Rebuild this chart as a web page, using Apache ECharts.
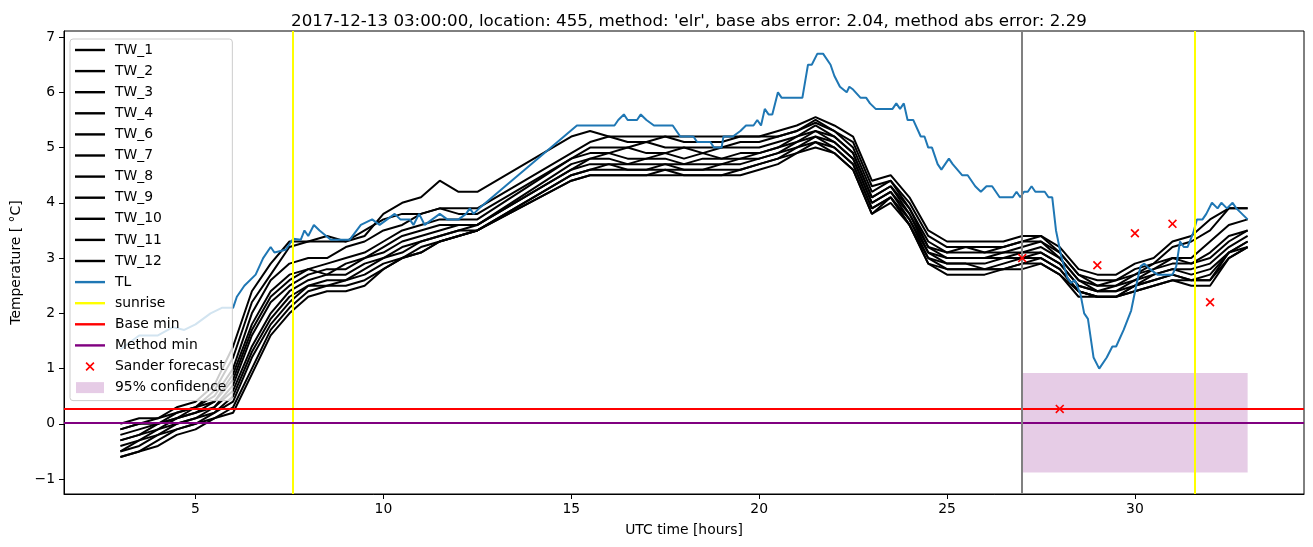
<!DOCTYPE html>
<html><head><meta charset="utf-8">
<script src="https://cdn.jsdelivr.net/npm/echarts@6/dist/echarts.min.js"></script>
<style>html,body{margin:0;padding:0;background:#fff}#c{width:1313px;height:547px}</style>
</head><body><div id="c"></div>
<script>
// ---------------- data ----------------
const times = [3,3.5,4,4.5,5,5.5,6,6.5,7,7.5,8,8.5,9,9.5,10,10.5,11,11.5,12,12.5,
  15,15.5,16,16.5,17,17.5,18,18.5,19,19.5,20,20.5,21,21.5,22,22.5,23,23.5,24,24.5,
  25,25.5,26,26.5,27,27.5,28,28.5,29,29.5,30,30.5,31,31.5,32,32.5,33];

const TW_1 = [0.0,0.1,0.1,0.3,0.4,0.7,1.4,2.4,2.9,3.3,3.3,3.4,3.3,3.4,3.8,4.0,4.1,4.4,4.2,4.2,
  5.2,5.3,5.2,5.2,5.2,5.2,5.2,5.2,5.2,5.2,5.2,5.3,5.4,5.55,5.4,5.2,4.4,4.5,4.1,3.5,
  3.3,3.3,3.3,3.3,3.4,3.4,3.2,2.8,2.7,2.7,2.9,3.0,3.3,3.4,3.7,3.9,3.9];
const TW_2 = [-0.1,0.0,0.1,0.2,0.3,0.6,1.2,2.2,2.7,3.2,3.3,3.3,3.3,3.5,3.7,3.8,3.8,3.9,3.9,3.9,
  4.9,5.1,5.2,5.1,5.1,5.2,5.1,5.1,5.1,5.2,5.2,5.2,5.3,5.5,5.3,5.1,4.3,4.4,4.0,3.4,
  3.2,3.2,3.2,3.2,3.3,3.4,3.1,2.7,2.6,2.6,2.8,2.9,3.2,3.3,3.5,3.9,3.9];
const TW_3 = [-0.1,0.0,0.0,0.2,0.3,0.5,1.0,2.0,2.6,2.9,3.0,3.0,3.2,3.3,3.5,3.6,3.8,3.9,3.8,3.8,
  4.8,5.0,5.0,5.0,5.1,5.0,5.0,5.0,5.0,5.1,5.1,5.2,5.3,5.45,5.3,5.0,4.2,4.4,3.9,3.3,
  3.1,3.2,3.1,3.2,3.3,3.3,3.1,2.7,2.5,2.6,2.7,2.9,3.0,3.0,3.3,3.6,3.7];
const TW_4 = [-0.2,-0.1,0.0,0.1,0.3,0.4,0.9,1.8,2.4,2.7,2.8,2.9,3.0,3.1,3.3,3.5,3.6,3.7,3.7,3.7,
  4.8,4.9,4.9,5.0,4.9,4.9,5.0,4.9,5.0,5.0,5.0,5.1,5.2,5.4,5.2,4.9,4.1,4.3,3.9,3.2,
  3.1,3.1,3.1,3.1,3.2,3.3,3.0,2.6,2.5,2.5,2.7,2.8,3.0,2.9,3.1,3.4,3.5];
const TW_6 = [-0.3,-0.2,0.0,0.1,0.2,0.4,0.8,1.7,2.3,2.6,2.8,2.7,2.9,3.0,3.2,3.4,3.5,3.6,3.6,3.6,
  4.7,4.8,4.9,4.8,4.8,4.9,4.8,4.9,4.8,4.9,4.9,5.0,5.2,5.3,5.2,4.9,4.1,4.3,3.8,3.2,
  3.0,3.0,3.0,3.1,3.1,3.2,3.0,2.6,2.4,2.5,2.6,2.8,2.9,2.9,3.0,3.3,3.5];
const TW_7 = [-0.3,-0.2,-0.1,0.1,0.2,0.3,0.7,1.6,2.2,2.5,2.7,2.8,2.8,3.0,3.1,3.3,3.4,3.5,3.6,3.6,
  4.6,4.8,4.8,4.7,4.8,4.8,4.7,4.8,4.8,4.8,4.9,5.0,5.1,5.3,5.1,4.8,4.0,4.2,3.8,3.1,
  3.0,3.0,3.0,3.0,3.1,3.1,2.9,2.5,2.4,2.4,2.6,2.7,2.8,2.8,2.9,3.2,3.4];
const TW_8 = [-0.4,-0.3,-0.1,0.0,0.1,0.3,0.6,1.4,2.0,2.4,2.6,2.7,2.7,2.9,3.0,3.2,3.3,3.4,3.5,3.6,
  4.6,4.7,4.7,4.7,4.7,4.7,4.7,4.7,4.7,4.8,4.8,4.9,5.1,5.2,5.1,4.8,4.0,4.2,3.7,3.1,
  2.9,2.9,2.9,3.0,3.0,3.1,2.9,2.5,2.4,2.4,2.5,2.7,2.8,2.7,2.8,3.1,3.3];
const TW_9 = [-0.5,-0.3,-0.2,0.0,0.1,0.2,0.5,1.3,1.9,2.3,2.5,2.6,2.6,2.8,3.0,3.1,3.3,3.4,3.5,3.5,
  4.5,4.6,4.7,4.6,4.6,4.7,4.6,4.6,4.7,4.7,4.8,4.9,5.0,5.2,5.0,4.7,3.9,4.1,3.7,3.0,
  2.9,2.9,2.8,2.9,3.0,3.0,2.8,2.4,2.3,2.3,2.5,2.6,2.7,2.6,2.7,3.1,3.3];
const TW_10 = [-0.5,-0.4,-0.2,-0.1,0.0,0.2,0.4,1.2,1.8,2.2,2.5,2.5,2.6,2.7,2.9,3.0,3.2,3.3,3.4,3.5,
  4.5,4.6,4.6,4.6,4.6,4.6,4.6,4.6,4.6,4.6,4.7,4.8,5.0,5.1,5.0,4.7,3.9,4.1,3.6,3.0,
  2.8,2.8,2.8,2.8,2.9,3.0,2.8,2.4,2.3,2.3,2.5,2.6,2.7,2.6,2.6,3.0,3.2];
const TW_11 = [-0.6,-0.5,-0.3,-0.1,0.0,0.1,0.3,1.0,1.7,2.1,2.4,2.5,2.5,2.6,2.8,3.0,3.1,3.3,3.4,3.5,
  4.4,4.5,4.5,4.5,4.5,4.6,4.5,4.5,4.5,4.6,4.7,4.8,4.9,5.1,4.9,4.6,3.8,4.1,3.6,2.9,
  2.8,2.8,2.8,2.8,2.9,2.9,2.7,2.4,2.3,2.3,2.4,2.5,2.6,2.6,2.6,3.1,3.2];
const TW_12 = [-0.6,-0.5,-0.4,-0.2,-0.1,0.1,0.2,0.9,1.6,2.0,2.3,2.4,2.4,2.5,2.8,3.0,3.1,3.3,3.4,3.5,
  4.4,4.5,4.5,4.5,4.5,4.5,4.5,4.5,4.5,4.5,4.6,4.7,4.9,5.0,4.9,4.6,3.8,4.0,3.6,2.9,
  2.7,2.7,2.7,2.8,2.8,2.9,2.7,2.3,2.3,2.3,2.4,2.5,2.6,2.5,2.5,3.0,3.2];

const twNames = ['TW_1','TW_2','TW_3','TW_4','TW_6','TW_7','TW_8','TW_9','TW_10','TW_11','TW_12'];
const twValues = [TW_1,TW_2,TW_3,TW_4,TW_6,TW_7,TW_8,TW_9,TW_10,TW_11,TW_12];

const tlTimes = [3.0,3.5,4.0,4.4,4.7,5.0,5.4,5.7,6.0,6.1,6.3,6.6,6.8,7.0,7.1,7.4,7.6,7.8,7.9,8.0,8.15,8.3,8.6,9.1,9.2,9.4,9.7,9.9,10.1,10.3,10.45,10.7,10.8,10.95,11.1,11.3,11.5,11.7,12.0,12.2,12.3,12.4,12.55,
  15.15,16.15,16.25,16.4,16.5,16.75,16.85,17.0,17.2,17.7,17.8,17.9,18.25,18.35,18.7,18.8,19.0,19.05,19.3,19.5,19.65,19.85,19.95,20.05,20.15,20.25,20.35,20.5,20.6,21.15,21.3,21.4,21.55,21.7,21.9,22.0,22.15,22.33,22.4,22.5,22.7,22.85,22.95,23.1,23.55,23.65,23.75,23.85,23.95,24.1,24.3,24.4,24.5,24.6,24.75,24.85,24.95,25.05,25.15,25.4,25.55,25.75,25.9,26.05,26.2,26.4,26.75,26.85,26.95,27.05,27.15,27.25,27.35,27.6,27.7,27.8,27.9,28.05,28.2,28.3,28.4,28.55,28.65,28.75,28.9,29.05,29.25,29.4,29.5,29.7,29.9,30.05,30.15,30.25,30.4,30.6,31.0,31.1,31.2,31.3,31.4,31.55,31.65,31.8,31.9,32.05,32.2,32.3,32.45,32.6,32.7,33.0];
const tlValues = [1.35,1.6,1.6,1.75,1.7,1.8,2.0,2.1,2.1,2.3,2.5,2.7,3.0,3.2,3.1,3.15,3.35,3.33,3.5,3.4,3.6,3.5,3.33,3.33,3.42,3.6,3.7,3.6,3.7,3.8,3.7,3.7,3.6,3.8,3.6,3.7,3.8,3.7,3.7,3.8,3.9,3.8,3.9,
  5.4,5.4,5.5,5.6,5.5,5.5,5.6,5.5,5.4,5.4,5.3,5.2,5.2,5.1,5.1,5.0,5.0,5.2,5.2,5.3,5.4,5.4,5.5,5.4,5.7,5.6,5.6,6.0,5.9,5.9,6.5,6.5,6.7,6.7,6.5,6.3,6.1,6.0,6.1,6.05,5.9,5.9,5.8,5.7,5.7,5.8,5.7,5.8,5.5,5.5,5.2,5.2,5.0,5.0,4.7,4.6,4.7,4.8,4.7,4.5,4.5,4.3,4.2,4.3,4.3,4.1,4.1,4.2,4.1,4.2,4.2,4.3,4.2,4.2,4.1,4.1,3.5,3.0,2.65,2.55,2.6,2.35,2.0,1.9,1.2,1.0,1.2,1.4,1.4,1.7,2.05,2.55,2.85,2.9,2.8,2.7,2.7,2.85,3.3,3.2,3.2,3.45,3.7,3.7,3.8,4.0,3.9,4.0,3.9,4.0,3.9,3.7];

const sanderTimes = [27,28,29,30,31,32];
const sanderValues = [3.0,0.27,2.87,3.45,3.62,2.2];
const sunriseTimes = [7.6,31.6];
const forecastTime = 27;
const baseMin = 0.27;
const methodMin = 0.02;
const confStart = 27, confEnd = 33, confLow = -0.88, confHigh = 0.92;

const xTicks = [5,10,15,20,25,30];
const yTicks = [-1,0,1,2,3,4,5,6,7];

const titleText = "2017-12-13 03:00:00, location: 455, method: 'elr', base abs error: 2.04, method abs error: 2.29";

// ---------------- chart ----------------
const FONT = 'DejaVu Sans';
const xPath = 'path://M0,1.3L1.3,0L5,3.7L8.7,0L10,1.3L6.3,5L10,8.7L8.7,10L5,6.3L1.3,10L0,8.7L3.7,5Z';
const xLegendPath = 'path://M-2.8,-2.8M12.8,12.8M0,1.3L1.3,0L5,3.7L8.7,0L10,1.3L6.3,5L10,8.7L8.7,10L5,6.3L1.3,10L0,8.7L3.7,5Z';
const rectLegendPath = 'path://M0,0M30,14M1,1.5L29,1.5L29,12.5L1,12.5Z';
const lineLegendPath = 'path://M0,0M30,14M0,5.8L30,5.8L30,8.2L0,8.2Z';

const series = [];
series.push({
  name: '95% confidence', type: 'line', data: [], z: 1,
  itemStyle: {color: 'rgba(128,0,128,0.2)'}, lineStyle: {width: 0},
  markArea: {silent: true, itemStyle: {color: 'rgba(128,0,128,0.2)'},
    data: [[{xAxis: confStart, yAxis: confLow}, {xAxis: confEnd, yAxis: confHigh}]]}
});
twNames.forEach((n, i) => {
  series.push({name: n, type: 'line', symbol: 'none', z: 2,
    data: times.map((t, j) => [t, twValues[i][j]]),
    lineStyle: {color: '#000', width: 2}, itemStyle: {color: '#000'}});
});
series.push({name: 'TL', type: 'line', symbol: 'none', z: 3,
  data: tlTimes.map((t, j) => [t, tlValues[j]]),
  lineStyle: {color: '#1f77b4', width: 2}, itemStyle: {color: '#1f77b4'}});
function vline(name, vals, color, z) {
  return {name: name, type: 'line', data: [], symbol: 'none', z: z,
    itemStyle: {color: color}, lineStyle: {color: color, width: 2},
    markLine: {silent: true, symbol: ['none', 'none'], label: {show: false},
      lineStyle: {color: color, width: 2, type: 'solid'},
      data: vals}};
}
series.push(vline('sunrise', sunriseTimes.map(v => ({xAxis: v})), '#ffff00', 4));
series.push(vline('Base min', [{yAxis: baseMin}], '#ff0000', 4));
series.push(vline('Method min', [{yAxis: methodMin}], '#800080', 4));
series.push(vline('forecast', [{xAxis: forecastTime}], '#808080', 4));
series.push({name: 'Sander forecast', type: 'scatter', symbol: xPath, symbolSize: 9, z: 6,
  data: sanderTimes.map((t, j) => [t, sanderValues[j]]),
  itemStyle: {color: '#ff0000', opacity: 1}});

const legendData = twNames.map(n => ({name: n, icon: lineLegendPath}))
  .concat([{name: 'TL', icon: lineLegendPath}, {name: 'sunrise', icon: lineLegendPath},
    {name: 'Base min', icon: lineLegendPath}, {name: 'Method min', icon: lineLegendPath},
    {name: 'Sander forecast', icon: xLegendPath},
    {name: '95% confidence', icon: rectLegendPath, itemStyle: {color: 'rgba(128,0,128,0.2)'}}]);

const axisCommon = {
  type: 'value',
  axisLine: {show: true, onZero: false, lineStyle: {color: '#000', width: 1}},
  axisTick: {show: true, length: 5, lineStyle: {color: '#000', width: 1}},
  splitLine: {show: false},
  nameLocation: 'middle',
  nameTextStyle: {color: '#000', fontSize: 13.9, fontFamily: FONT}
};

const chart = echarts.init(document.getElementById('c'), null, {renderer: 'canvas'});
chart.setOption({
  animation: false,
  backgroundColor: '#fff',
  title: {text: titleText, left: 684, top: 8, textAlign: 'center',
    textStyle: {fontSize: 16.7, fontWeight: 'normal', color: '#000', fontFamily: FONT}},
  grid: {left: 64, right: 9, top: 31, bottom: 53, show: true, borderColor: '#000', borderWidth: 1, backgroundColor: 'transparent'},
  legend: {
    orient: 'vertical', left: 70, top: 39,
    padding: [4, 6, 6, 5], itemWidth: 30, itemHeight: 14, itemGap: 7.1,
    backgroundColor: 'rgba(255,255,255,0.8)', borderColor: '#cccccc', borderWidth: 1, borderRadius: 3,
    textStyle: {fontSize: 13.9, fontFamily: FONT, color: '#000', padding: [0, 0, 0, 5], lineHeight: 14},
    selectedMode: false, z: 20,
    data: legendData
  },
  xAxis: Object.assign({}, axisCommon, {
    min: 1.5, max: 34.5, name: 'UTC time [hours]', nameGap: 29,
    axisTick: Object.assign({}, axisCommon.axisTick, {customValues: xTicks}),
    axisLabel: {customValues: xTicks, color: '#000', fontSize: 13.9, fontFamily: FONT, margin: 8}
  }),
  yAxis: Object.assign({}, axisCommon, {
    min: -1.27, max: 7.11, name: 'Temperature [ °C]', nameGap: 40,
    axisTick: Object.assign({}, axisCommon.axisTick, {customValues: yTicks}),
    axisLabel: {customValues: yTicks, color: '#000', fontSize: 13.9, fontFamily: FONT, margin: 9,
      formatter: v => String(v).replace('-', '\u2212')}
  }),
  series: series
});
</script>
</body></html>
